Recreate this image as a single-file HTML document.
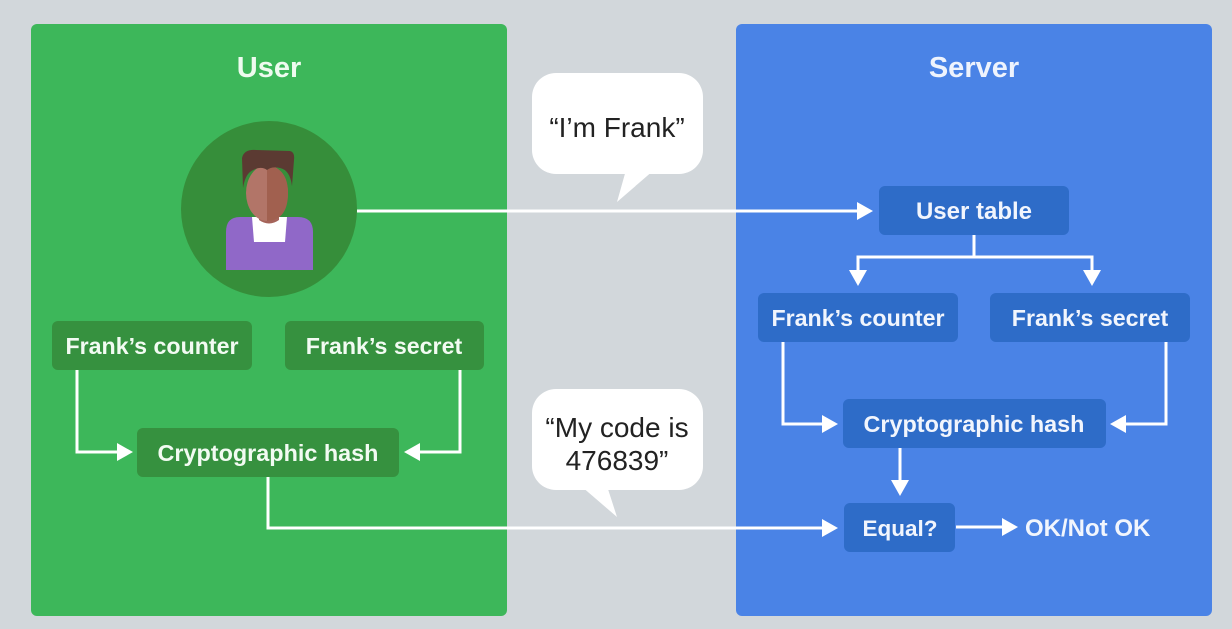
<!DOCTYPE html>
<html><head><meta charset="utf-8">
<style>
html,body{margin:0;padding:0;background:#d2d7db;}
svg{display:block;}
text{font-family:"Liberation Sans",Arial,sans-serif;}
</style></head>
<body>
<svg width="1232" height="629" viewBox="0 0 1232 629" xmlns="http://www.w3.org/2000/svg">
<rect x="0" y="0" width="1232" height="629" fill="#d2d7db"/>
<!-- panels -->
<rect x="31" y="24" width="476" height="592" rx="6" fill="#3db75a"/>
<rect x="736" y="24" width="476" height="592" rx="6" fill="#4a83e6"/>
<text x="269" y="77" text-anchor="middle" font-size="29" font-weight="bold" fill="#eefbef">User</text>
<text x="974" y="77" text-anchor="middle" font-size="29" font-weight="bold" fill="#eef3fd">Server</text>

<!-- avatar -->
<circle cx="269" cy="209" r="88" fill="#368e3a"/>
<path d="M226 232 Q226 217 240 217 L298 217 Q313 217 313 232 L313 270 L226 270 Z" fill="#9068c8"/>
<path d="M252 217 L287 217 L285 242 L254 242 Z" fill="#ffffff"/>
<path d="M259 205 L279 205 L279 220 Q269 227 259 220 Z" fill="#a5645a"/>
<ellipse cx="267" cy="193" rx="21" ry="28" fill="#b27568"/>
<path d="M267 165 Q288 168 288 193 Q288 220 267 221 Z" fill="#a1604f"/>
<path d="M243 188 L242 158 Q244 149 256 150 L290 151 Q295 152 294 160 L292 186 Q290 170 280 168 Q272 166 267 170 Q260 165 250 172 Q245 176 243 188 Z" fill="#5b3a32"/>

<!-- left boxes -->
<rect x="52" y="321" width="200" height="49" rx="6" fill="#36913f"/>
<text x="152" y="354" text-anchor="middle" font-size="23.2" font-weight="bold" fill="#f2fbf2">Frank’s counter</text>
<rect x="285" y="321" width="199" height="49" rx="6" fill="#36913f"/>
<text x="384" y="354" text-anchor="middle" font-size="23.2" font-weight="bold" fill="#f2fbf2">Frank’s secret</text>
<rect x="137" y="428" width="262" height="49" rx="6" fill="#36913f"/>
<text x="268" y="461" text-anchor="middle" font-size="23.4" font-weight="bold" fill="#f2fbf2">Cryptographic hash</text>

<g stroke="#ffffff" stroke-width="3" fill="none">
<polyline points="77,370 77,452 120,452"/>
<polyline points="460,370 460,452 418,452"/>
<polyline points="268,477 268,528 822,528"/>
<line x1="357" y1="211" x2="858" y2="211"/>
<line x1="974" y1="235" x2="974" y2="257"/>
<polyline points="858,272 858,257 1092,257 1092,272"/>
<polyline points="783,342 783,424 825,424"/>
<polyline points="1166,342 1166,424 1124,424"/>
<line x1="900" y1="448" x2="900" y2="482"/>
<line x1="956" y1="527" x2="1004" y2="527"/>
</g>
<g fill="#ffffff">
<polygon points="117,443 133,452 117,461"/>
<polygon points="420,443 404,452 420,461"/>
<polygon points="822,519 838,528 822,537"/>
<polygon points="857,202 873,211 857,220"/>
<polygon points="849,270 867,270 858,286"/>
<polygon points="1083,270 1101,270 1092,286"/>
<polygon points="822,415 838,424 822,433"/>
<polygon points="1126,415 1110,424 1126,433"/>
<polygon points="891,480 909,480 900,496"/>
<polygon points="1002,518 1018,527 1002,536"/>
</g>

<!-- right boxes -->
<rect x="879" y="186" width="190" height="49" rx="6" fill="#2e6cc8"/>
<text x="974" y="219" text-anchor="middle" font-size="24" font-weight="bold" fill="#f1f5fd">User table</text>
<rect x="758" y="293" width="200" height="49" rx="6" fill="#2e6cc8"/>
<text x="858" y="326" text-anchor="middle" font-size="23.2" font-weight="bold" fill="#f1f5fd">Frank’s counter</text>
<rect x="990" y="293" width="200" height="49" rx="6" fill="#2e6cc8"/>
<text x="1090" y="326" text-anchor="middle" font-size="23.2" font-weight="bold" fill="#f1f5fd">Frank’s secret</text>
<rect x="843" y="399" width="263" height="49" rx="6" fill="#2e6cc8"/>
<text x="974" y="432" text-anchor="middle" font-size="23.4" font-weight="bold" fill="#f1f5fd">Cryptographic hash</text>
<rect x="844" y="503" width="111" height="49" rx="6" fill="#2e6cc8"/>
<text x="900" y="536" text-anchor="middle" font-size="22.5" font-weight="bold" fill="#f1f5fd">Equal?</text>
<text x="1025" y="536" font-size="24" font-weight="bold" fill="#f1f5fd">OK/Not OK</text>

<!-- speech bubbles -->
<rect x="532" y="73" width="171" height="101" rx="24" fill="#ffffff"/>
<polygon points="626,170 654,170 617,202" fill="#ffffff"/>
<text x="617" y="137" text-anchor="middle" font-size="28" fill="#222222">“I’m Frank”</text>

<rect x="532" y="389" width="171" height="101" rx="24" fill="#ffffff"/>
<polygon points="581,486 607,486 617,517" fill="#ffffff"/>
<text x="617" y="437" text-anchor="middle" font-size="28" fill="#222222">“My code is</text>
<text x="617" y="470" text-anchor="middle" font-size="28" fill="#222222">476839”</text>
</svg>
</body></html>
